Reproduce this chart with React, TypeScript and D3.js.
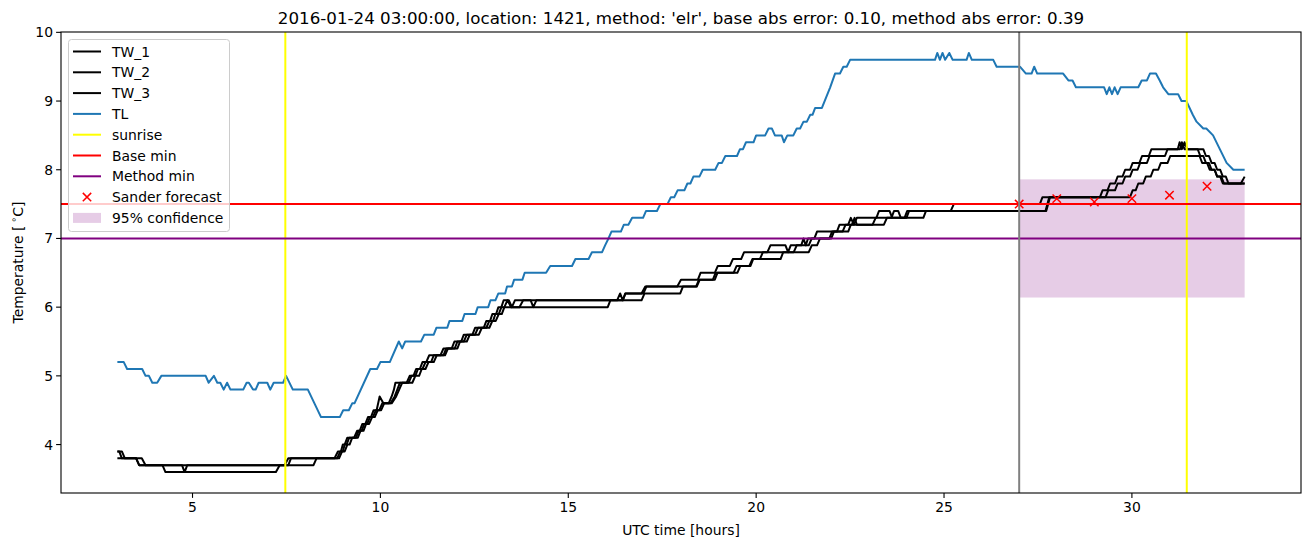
import React from "react";
import * as d3 from "d3";

const TITLE = "2016-01-24 03:00:00, location: 1421, method: 'elr', base abs error: 0.10, method abs error: 0.39";
const X_TICKS = [5, 10, 15, 20, 25, 30];
const Y_TICKS = [4, 5, 6, 7, 8, 9, 10];

const TL: [number, number][] = [
  [3.0,5.2],[3.17,5.2],[3.26,5.1],[3.66,5.1],[3.75,5.0],[3.84,5.0],[3.93,4.9],[4.06,4.9],[4.17,5.0],[5.35,5.0],
  [5.43,4.9],[5.57,5.0],[5.66,4.9],[5.74,4.9],[5.83,4.8],[5.92,4.9],[6.01,4.8],[6.35,4.8],[6.44,4.9],[6.5,4.9],
  [6.61,4.8],[6.68,4.8],[6.76,4.9],[6.99,4.9],[7.07,4.8],[7.16,4.9],[7.41,4.9],[7.49,5.0],[7.67,4.8],[8.07,4.8],
  [8.42,4.4],[8.92,4.4],[9.01,4.5],[9.16,4.5],[9.25,4.6],[9.31,4.6],[9.73,5.1],[9.91,5.1],[10.0,5.2],[10.25,5.2],
  [10.49,5.5],[10.58,5.4],[10.66,5.5],[11.08,5.5],[11.17,5.6],[11.42,5.6],[11.49,5.7],[11.78,5.7],[11.84,5.8],[12.18,5.8],
  [12.24,5.9],[12.53,5.9],[12.59,6.0],[12.87,6.0],[12.93,6.1],[13.06,6.1],[13.14,6.2],[13.32,6.2],[13.37,6.3],[13.5,6.3],
  [13.56,6.4],[13.78,6.4],[13.84,6.5],[14.41,6.5],[14.52,6.6],[15.1,6.6],[15.19,6.7],[15.54,6.7],[15.63,6.8],[15.9,6.8],
  [15.98,6.9],[16.07,7.0],[16.15,7.1],[16.4,7.1],[16.48,7.2],[16.6,7.2],[16.7,7.3],[16.99,7.3],[17.07,7.4],[17.36,7.4],
  [17.45,7.5],[17.64,7.5],[17.73,7.6],[17.82,7.6],[17.91,7.7],[18.09,7.7],[18.17,7.8],[18.25,7.8],[18.33,7.9],[18.49,7.9],
  [18.58,8.0],[18.91,8.0],[19.0,8.1],[19.09,8.1],[19.18,8.2],[19.49,8.2],[19.57,8.3],[19.65,8.3],[19.73,8.4],[19.93,8.4],
  [20.0,8.5],[20.24,8.5],[20.33,8.6],[20.42,8.6],[20.5,8.5],[20.68,8.5],[20.74,8.4],[20.83,8.5],[20.99,8.5],[21.08,8.6],
  [21.17,8.6],[21.26,8.7],[21.35,8.7],[21.44,8.8],[21.5,8.8],[21.57,8.9],[21.75,8.9],[21.97,9.2],[22.1,9.4],[22.23,9.4],
  [22.32,9.5],[22.41,9.5],[22.5,9.6],[24.76,9.6],[24.82,9.7],[24.89,9.6],[24.96,9.7],[25.03,9.6],[25.14,9.7],[25.23,9.6],
  [25.6,9.6],[25.66,9.7],[25.74,9.6],[26.31,9.6],[26.4,9.5],[27.02,9.5],[27.18,9.4],[27.33,9.4],[27.4,9.5],[27.48,9.4],
  [28.17,9.4],[28.31,9.3],[28.42,9.3],[28.51,9.2],[29.26,9.2],[29.33,9.1],[29.4,9.2],[29.47,9.1],[29.54,9.2],[29.62,9.1],
  [29.7,9.2],[30.17,9.2],[30.26,9.3],[30.4,9.3],[30.48,9.4],[30.64,9.4],[30.74,9.3],[30.83,9.2],[30.97,9.1],[31.23,9.1],
  [31.32,9.0],[31.45,9.0],[31.62,8.8],[31.72,8.7],[31.9,8.6],[31.98,8.6],[32.16,8.5],[32.34,8.3],[32.52,8.1],[32.7,8.0],
  [33.0,8.0],
];

const TW_1: [number, number][] = [
  [3.0,3.9],[3.05,3.9],[3.12,3.8],[3.5,3.8],[3.58,3.7],[7.45,3.7],[7.55,3.8],[8.78,3.8],[8.87,3.9],[8.95,3.9],
  [9.0,4.0],[9.05,4.0],[9.12,4.1],[9.3,4.1],[9.38,4.2],[9.45,4.2],[9.52,4.3],[9.6,4.3],[9.67,4.4],[9.75,4.4],
  [9.82,4.5],[9.9,4.5],[9.98,4.7],[10.08,4.6],[10.22,4.6],[10.3,4.7],[10.36,4.8],[10.4,4.9],
  [10.7,4.9],[10.78,5.0],[10.88,5.0],[10.95,5.1],[11.05,5.1],[11.12,5.2],[11.22,5.2],[11.3,5.3],[11.6,5.3],[11.68,5.4],
  [11.9,5.4],[11.97,5.5],[12.15,5.5],[12.22,5.6],[12.45,5.6],[12.52,5.7],[12.75,5.7],[12.82,5.8],[12.92,5.8],[12.98,5.9],
  [13.08,5.9],[13.14,6.0],[13.22,6.0],[13.28,6.1],[13.42,6.1],[13.5,6.0],[13.58,6.1],[14.0,6.1],
  [14.07,6.0],[14.15,6.1],[16.3,6.1],[16.38,6.2],[16.45,6.1],[16.52,6.2],[16.95,6.2],[17.05,6.3],[17.9,6.3],[18.0,6.4],
  [18.45,6.4],[18.52,6.5],[18.9,6.5],[18.98,6.6],[19.3,6.6],[19.38,6.7],[19.6,6.7],[19.68,6.8],[20.3,6.8],[20.38,6.9],
  [20.78,6.9],[20.85,6.8],[20.92,6.9],[21.2,6.9],[21.26,7.0],[21.32,6.9],[21.38,7.0],[21.55,7.0],[21.62,7.1],[22.15,7.1],
  [22.22,7.2],[22.45,7.2],[22.52,7.3],[22.6,7.2],[22.68,7.3],[23.2,7.3],[23.27,7.4],[23.55,7.4],[23.62,7.3],[23.95,7.3],
  [24.02,7.4],[25.18,7.4],[25.26,7.5],[27.55,7.5],[27.62,7.6],[29.15,7.6],[29.22,7.7],[29.35,7.7],[29.42,7.8],[29.55,7.8],
  [29.62,7.9],[29.75,7.9],[29.82,8.0],[29.95,8.0],[30.02,8.1],[30.2,8.1],[30.27,8.2],[30.45,8.2],[30.52,8.3],
  [31.22,8.3],[31.27,8.4],[31.33,8.3],[31.4,8.4],[31.47,8.3],[31.75,8.3],[31.82,8.2],[31.9,8.2],[31.97,8.1],[32.05,8.1],
  [32.12,8.0],[32.2,8.0],[32.27,7.9],[32.38,7.9],[32.45,7.8],[32.9,7.8],[33.0,7.9],
];

const TW_2: [number, number][] = [
  [3.0,3.9],[3.12,3.9],[3.2,3.8],[3.65,3.8],[3.75,3.7],[4.72,3.7],[4.79,3.6],[4.86,3.7],[7.55,3.7],[7.62,3.8],
  [8.85,3.8],[8.93,3.9],[9.0,3.9],[9.05,4.0],[9.1,4.0],[9.17,4.1],[9.35,4.1],[9.42,4.2],[9.5,4.2],[9.57,4.3],
  [9.65,4.3],[9.72,4.4],[9.8,4.4],[9.88,4.5],[9.97,4.5],[10.05,4.6],[10.27,4.6],[10.38,4.7],[10.45,4.8],[10.52,4.9],
  [10.75,4.9],[10.83,5.0],[10.93,5.0],[11.0,5.1],[11.12,5.1],[11.2,5.2],[11.35,5.2],[11.42,5.3],[11.68,5.3],[11.75,5.4],
  [11.98,5.4],[12.05,5.5],[12.22,5.5],[12.3,5.6],[12.52,5.6],[12.6,5.7],[12.82,5.7],[12.9,5.8],[13.0,5.8],[13.06,5.9],
  [13.15,5.9],[13.22,6.0],[13.3,6.0],[13.38,6.1],[13.48,6.0],[13.7,6.0],[13.8,6.1],
  [16.45,6.1],[16.52,6.2],[17.0,6.2],[17.08,6.3],[18.4,6.3],[18.48,6.4],[18.85,6.4],[18.92,6.5],[19.4,6.5],[19.48,6.6],
  [19.85,6.6],[19.92,6.7],[20.1,6.7],[20.18,6.8],[21.0,6.8],[21.08,6.9],[21.4,6.9],[21.48,7.0],[21.95,7.0],[22.02,7.1],
  [22.3,7.1],[22.38,7.2],[22.55,7.2],[22.62,7.3],[22.68,7.2],[23.1,7.2],[23.18,7.3],[23.6,7.3],[23.67,7.4],[23.78,7.4],
  [23.85,7.3],[24.0,7.3],[24.07,7.4],[27.7,7.4],[27.8,7.6],[29.3,7.6],[29.37,7.7],[29.55,7.7],[29.62,7.8],[29.75,7.8],
  [29.82,7.9],[29.95,7.9],[30.02,8.0],[30.15,8.0],[30.22,8.1],[30.4,8.1],[30.47,8.2],[30.88,8.2],[30.95,8.3],
  [31.28,8.3],[31.33,8.4],[31.4,8.3],[31.9,8.3],[31.97,8.2],[32.05,8.2],[32.12,8.1],[32.2,8.1],[32.27,8.0],[32.35,8.0],
  [32.42,7.9],[32.5,7.9],[32.57,7.8],[33.0,7.8],
];

const TW_3: [number, number][] = [
  [3.0,3.8],[3.5,3.8],[3.58,3.7],[4.2,3.7],[4.28,3.6],[7.22,3.6],[7.32,3.7],[8.22,3.7],[8.3,3.8],[8.9,3.8],
  [8.98,3.9],[9.05,3.9],[9.12,4.0],[9.18,4.0],[9.25,4.1],[9.4,4.1],[9.47,4.2],[9.55,4.2],[9.62,4.3],[9.7,4.3],
  [9.78,4.4],[9.85,4.4],[9.93,4.5],[10.02,4.5],[10.1,4.6],[10.3,4.6],[10.42,4.7],[10.5,4.8],[10.58,4.9],
  [10.85,4.9],[10.93,5.0],[11.03,5.0],[11.1,5.1],[11.2,5.1],[11.28,5.2],[11.42,5.2],[11.5,5.3],[11.72,5.3],[11.8,5.4],
  [12.05,5.4],[12.12,5.5],[12.3,5.5],[12.38,5.6],[12.62,5.6],[12.7,5.7],[12.9,5.7],[12.98,5.8],[13.07,5.8],[13.15,5.9],
  [13.23,5.9],[13.3,6.0],[16.05,6.0],[16.12,6.1],[16.95,6.1],[17.03,6.2],[17.98,6.2],[18.05,6.3],
  [18.42,6.3],[18.5,6.4],[18.9,6.4],[18.97,6.5],[19.5,6.5],[19.58,6.6],[19.82,6.6],[19.9,6.7],[20.65,6.7],[20.72,6.8],
  [21.4,6.8],[21.48,6.9],[21.62,6.9],[21.7,7.0],[22.0,7.0],[22.07,7.1],[22.45,7.1],[22.52,7.2],[23.4,7.2],[23.48,7.3],
  [24.45,7.3],[24.52,7.4],[27.72,7.4],[27.82,7.6],[29.95,7.6],[30.02,7.7],[30.1,7.7],[30.17,7.8],[30.3,7.8],[30.37,7.9],
  [30.5,7.9],[30.57,8.0],[30.7,8.0],[30.77,8.1],[30.95,8.1],[31.02,8.2],[31.8,8.2],[31.87,8.1],[32.0,8.1],[32.07,8.0],
  [32.2,8.0],[32.27,7.9],[32.35,7.9],[32.42,7.8],[33.0,7.8],
];

const SUNRISE = [7.47, 31.46];
const BASE_MIN = 7.5;
const METHOD_MIN = 7.0;
const FORECAST_START = 27.0;
const SANDER_HOURS = [27, 28, 29, 30, 31, 32];
const SANDER_VALUES = [7.5, 7.58, 7.53, 7.58, 7.63, 7.76];
const CONF_HOURS = [27.0, 33.0];
const CONF_RANGE = [6.14, 7.86];

const LEGEND = [
  { label: "TW_1", kind: "line", color: "#000000" },
  { label: "TW_2", kind: "line", color: "#000000" },
  { label: "TW_3", kind: "line", color: "#000000" },
  { label: "TL", kind: "line", color: "#1f77b4" },
  { label: "sunrise", kind: "line", color: "#ffff00" },
  { label: "Base min", kind: "line", color: "#ff0000" },
  { label: "Method min", kind: "line", color: "#800080" },
  { label: "Sander forecast", kind: "x", color: "#ff0000" },
  { label: "95% confidence", kind: "patch", color: "#800080" },
];

const W = 1310, H = 547;
const L = 61, R = 1301, T = 32, B = 493;
const FONT = "DejaVu Sans, sans-serif";
const LW = 2;

export default function App() {
  const x = d3.scaleLinear().domain([1.5, 34.5]).range([L, R]);
  const y = d3.scaleLinear().domain([3.295, 10.005]).range([B, T]);
  const line = d3.line<[number, number]>().x(d => x(d[0])).y(d => y(d[1]));
  const xm = 4.2;
  return (
    <svg width={W} height={H} style={{ position: "absolute", left: 0, top: 0, background: "#fff" }} fontFamily={FONT}>
      <defs>
        <clipPath id="plot"><rect x={L} y={T} width={R - L} height={B - T} /></clipPath>
      </defs>
      <rect x={0} y={0} width={W} height={H} fill="#fff" />
      <g clipPath="url(#plot)">
        <rect x={x(CONF_HOURS[0])} y={y(CONF_RANGE[1])} width={x(CONF_HOURS[1]) - x(CONF_HOURS[0])}
          height={y(CONF_RANGE[0]) - y(CONF_RANGE[1])} fill="#800080" fillOpacity={0.2} />
        {[TW_1, TW_2, TW_3].map((s, i) => (
          <path key={i} d={line(s) || ""} fill="none" stroke="#000" strokeWidth={LW} strokeLinejoin="round" />
        ))}
        <path d={line(TL) || ""} fill="none" stroke="#1f77b4" strokeWidth={LW} strokeLinejoin="round" />
        {SUNRISE.map((h, i) => (
          <line key={i} x1={x(h)} x2={x(h)} y1={T} y2={B} stroke="#ffff00" strokeWidth={LW} />
        ))}
        <line x1={L} x2={R} y1={y(BASE_MIN)} y2={y(BASE_MIN)} stroke="#ff0000" strokeWidth={LW} />
        <line x1={L} x2={R} y1={y(METHOD_MIN)} y2={y(METHOD_MIN)} stroke="#800080" strokeWidth={LW} />
        {SANDER_HOURS.map((h, i) => {
          const cx = x(h), cy = y(SANDER_VALUES[i]);
          return (
            <path key={i} d={`M${cx - xm},${cy - xm}L${cx + xm},${cy + xm}M${cx - xm},${cy + xm}L${cx + xm},${cy - xm}`}
              stroke="#ff0000" strokeWidth={1.5} fill="none" />
          );
        })}
        <line x1={x(FORECAST_START)} x2={x(FORECAST_START)} y1={T} y2={B} stroke="#808080" strokeWidth={LW} />
      </g>
      <rect x={L} y={T} width={R - L} height={B - T} fill="none" stroke="#000" strokeWidth={1.1} />
      {X_TICKS.map(t => (
        <g key={t}>
          <line x1={x(t)} x2={x(t)} y1={B} y2={B + 4.9} stroke="#000" strokeWidth={1.1} />
          <text x={x(t)} y={B + 8} dy="0.76em" textAnchor="middle" fontSize={13.9}>{t}</text>
        </g>
      ))}
      {Y_TICKS.map(t => (
        <g key={t}>
          <line x1={L - 4.9} x2={L} y1={y(t)} y2={y(t)} stroke="#000" strokeWidth={1.1} />
          <text x={L - 8} y={y(t)} dy="0.36em" textAnchor="end" fontSize={13.9}>{t}</text>
        </g>
      ))}
      <text x={(L + R) / 2} y={535} textAnchor="middle" fontSize={13.9}>UTC time [hours]</text>
      <text transform={`translate(23,${(T + B) / 2}) rotate(-90)`} textAnchor="middle" fontSize={13.9}>
        Temperature [<tspan dx="3" fontSize={9.5} dy="-6">∘</tspan><tspan dy="6">C]</tspan>
      </text>
      <text x={(L + R) / 2} y={24} textAnchor="middle" fontSize={16.7}>{TITLE}</text>
      <g>
        <rect x={68.5} y={39.5} width={161} height={192} rx={3} fill="#fff" fillOpacity={0.8} stroke="#cccccc" strokeWidth={1} />
        {LEGEND.map((e, i) => {
          const cy = 51.5 + i * 20.8;
          return (
            <g key={e.label}>
              {e.kind === "line" && <line x1={73} x2={101} y1={cy} y2={cy} stroke={e.color} strokeWidth={LW} />}
              {e.kind === "x" && (
                <path d={`M${87 - xm},${cy - xm}L${87 + xm},${cy + xm}M${87 - xm},${cy + xm}L${87 + xm},${cy - xm}`}
                  stroke={e.color} strokeWidth={1.5} />
              )}
              {e.kind === "patch" && <rect x={73} y={cy - 5} width={28} height={10} fill={e.color} fillOpacity={0.2} />}
              <text x={112} y={cy} dy="0.36em" fontSize={13.9}>{e.label}</text>
            </g>
          );
        })}
      </g>
    </svg>
  );
}
